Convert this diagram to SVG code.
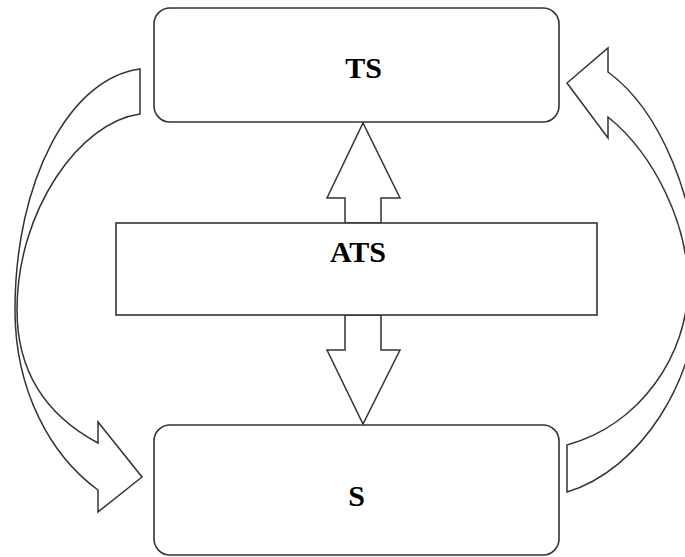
<svg xmlns="http://www.w3.org/2000/svg" width="685" height="557" viewBox="0 0 685 557">
<style>
.box{fill:#fff;stroke:#333;stroke-width:1.6}
.arr{fill:#fff;stroke:#333;stroke-width:1.5;stroke-linejoin:miter}
.lbl{font-family:"Liberation Serif","Times New Roman",serif;font-weight:bold;font-size:30px;fill:#000;text-anchor:middle}
</style>
<rect width="685" height="557" fill="#fff"/>
<g id="connectors">
<path class="arr" d="M140,69 L140,114 C80,122 17,210 17,310 C17,380 55,420 98,443 L98,422 L142,477 L98,512 L98,490 C50,455 15,390 15,310 C15,180 70,78 140,69 Z"/>
<path class="arr" d="M567,445 L567,492 C640,470 698,380 698,290 C698,200 660,110 608,72 L608,48 L567,83 L608,138 L608,117 C655,155 688,225 688,285 C688,355 640,425 567,445 Z"/>
<path class="arr" d="M345,223 L345,198 L327,198 L363,123 L400,198 L381,198 L381,223 Z"/>
<path class="arr" d="M345,315 L345,350 L327,350 L363,424 L400,350 L381,350 L381,315 Z"/>
</g>
<g id="TS">
<rect class="box" x="154" y="8" width="405" height="114" rx="16"/>
<text class="lbl" x="363.5" y="78">TS</text>
</g>
<g id="ATS">
<rect class="box" x="116" y="223" width="481" height="92"/>
<text class="lbl" x="358" y="262">ATS</text>
</g>
<g id="S">
<rect class="box" x="154" y="425" width="405" height="130" rx="16"/>
<text class="lbl" x="356.5" y="506">S</text>
</g>
</svg>
